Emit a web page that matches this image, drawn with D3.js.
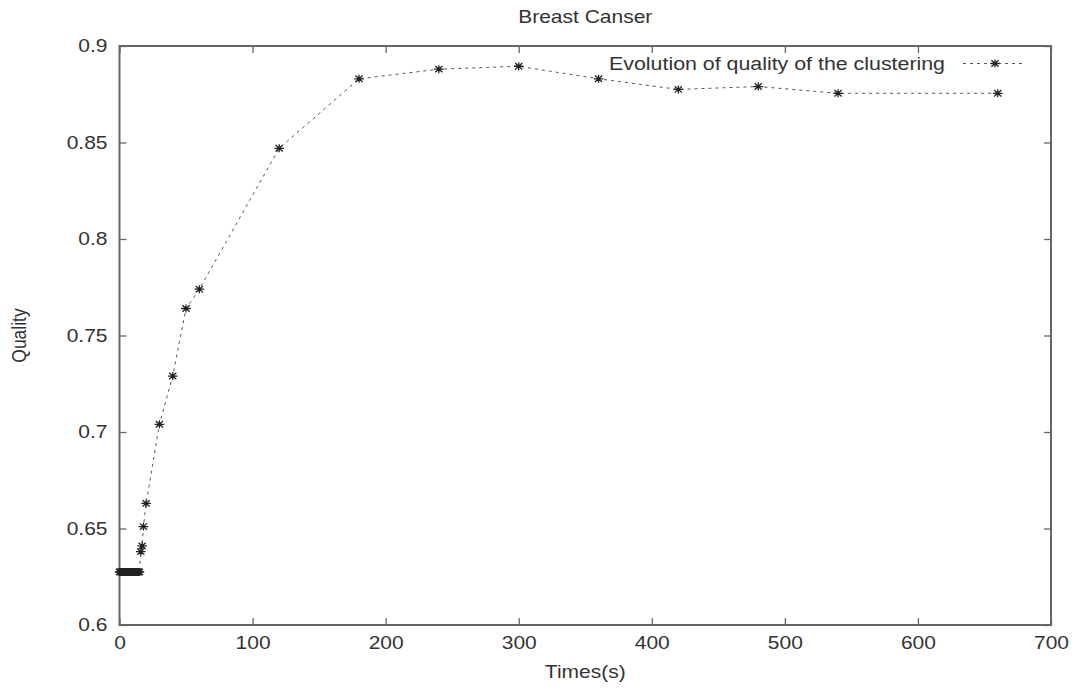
<!DOCTYPE html>
<html>
<head>
<meta charset="utf-8">
<script src="https://cdn.jsdelivr.net/npm/d3@7"></script>
<style>
  html, body { margin: 0; padding: 0; background: #fff; }
  svg { display: block; font-family: "Liberation Sans", Arial, sans-serif; }
</style>
</head>
<body>
<svg id="chart" width="1078" height="692"></svg>
<script>
// Elapsed time (seconds) and clustering quality at each sample
const times = [0, 0.5, 1, 1.5, 2, 2.5, 3, 3.5, 4, 4.5, 5, 5.5, 6, 6.5, 7, 7.5,
               8, 8.5, 9, 9.5, 10, 10.5, 11, 11.5, 12, 12.5, 13, 13.5, 14, 14.5, 15,
               16, 17, 18, 20, 30, 40, 50, 60, 120, 180, 240, 300, 360, 420, 480, 540, 660];
const quality = [0.6275, 0.6275, 0.6275, 0.6275, 0.6275, 0.6275, 0.6275, 0.6275,
                 0.6275, 0.6275, 0.6275, 0.6275, 0.6275, 0.6275, 0.6275, 0.6275,
                 0.6275, 0.6275, 0.6275, 0.6275, 0.6275, 0.6275, 0.6275, 0.6275,
                 0.6275, 0.6275, 0.6275, 0.6275, 0.6275, 0.6275, 0.6275,
                 0.638, 0.641, 0.651, 0.663, 0.704, 0.729, 0.764, 0.774, 0.847,
                 0.883, 0.888, 0.8895, 0.883, 0.8775, 0.879, 0.8755, 0.8755];
const xTicks = [0, 100, 200, 300, 400, 500, 600, 700];
const yTicks = [0.6, 0.65, 0.7, 0.75, 0.8, 0.85, 0.9];
const yTickLabels = ["0.6", "0.65", "0.7", "0.75", "0.8", "0.85", "0.9"];
const titleText = "Breast Canser";
const xTitle = "Times(s)";
const yTitle = "Quality";
const legendText = "Evolution of quality of the clustering";

const data = times.map((t, i) => ({ t, q: quality[i] }));

const svg = d3.select("#chart");
const frame = { left: 119.5, right: 1051, top: 46, bottom: 625 };

const x = d3.scaleLinear().domain([0, 700]).range([frame.left, frame.right]);
const y = d3.scaleLinear().domain([0.6, 0.9]).range([frame.bottom, frame.top]);

const axisColor = "#666";
const textColor = "#333";
const fontSize = 17.5;
const stretch = 1.2;   // text is drawn slightly widened

const tickLen = 7;
const styleAxis = g => {
  g.select(".domain").remove();
  g.selectAll(".tick line").attr("stroke", axisColor).attr("stroke-width", 1.3);
  g.selectAll(".tick text").attr("fill", textColor).attr("font-size", fontSize)
    .attr("font-family", "Liberation Sans, Arial, sans-serif")
    .attr("transform", `scale(${stretch},1)`);
};

// Tick marks point inward on all four sides (mirrored axes)
svg.append("g")
  .attr("transform", `translate(0,${frame.bottom})`)
  .call(d3.axisBottom(x).tickValues(xTicks).tickSize(-tickLen).tickPadding(12).tickFormat(d3.format("d")))
  .call(styleAxis);

svg.append("g")
  .attr("transform", `translate(0,${frame.top})`)
  .call(d3.axisTop(x).tickValues(xTicks).tickSize(-tickLen).tickFormat(""))
  .call(styleAxis);

svg.append("g")
  .attr("transform", `translate(${frame.left},0)`)
  .call(d3.axisLeft(y).tickValues(yTicks).tickSize(-tickLen).tickPadding(10)
    .tickFormat((d, i) => yTickLabels[i]))
  .call(styleAxis);

svg.append("g")
  .attr("transform", `translate(${frame.right},0)`)
  .call(d3.axisRight(y).tickValues(yTicks).tickSize(-tickLen).tickFormat(""))
  .call(styleAxis);

// Plot frame
svg.append("rect")
  .attr("x", frame.left).attr("y", frame.top)
  .attr("width", frame.right - frame.left)
  .attr("height", frame.bottom - frame.top)
  .attr("fill", "none").attr("stroke", axisColor).attr("stroke-width", 2);

// Dashed connecting line
const line = d3.line().x(d => x(d.t)).y(d => y(d.q));
svg.append("path")
  .datum(data)
  .attr("d", line)
  .attr("fill", "none")
  .attr("stroke", "#555")
  .attr("stroke-width", 1)
  .attr("stroke-dasharray", "3,4");

// Asterisk marker: plus and cross overlaid
const rx = 4.8, ry = 4;
const starPath = `M${-rx},0H${rx}M0,${-ry}V${ry}M${-rx * 0.75},${-ry * 0.8}L${rx * 0.75},${ry * 0.8}M${-rx * 0.75},${ry * 0.8}L${rx * 0.75},${-ry * 0.8}`;
svg.append("g")
  .selectAll("path")
  .data(data)
  .join("path")
  .attr("transform", d => `translate(${x(d.t)},${y(d.q)})`)
  .attr("d", starPath)
  .attr("stroke", "#222")
  .attr("stroke-width", 1.3)
  .attr("fill", "none");

// Titles
svg.append("text")
  .attr("transform", `translate(${(frame.left + frame.right) / 2},23) scale(${stretch},1)`)
  .attr("text-anchor", "middle")
  .attr("font-size", fontSize).attr("fill", textColor)
  .text(titleText);

svg.append("text")
  .attr("transform", `translate(${(frame.left + frame.right) / 2},678) scale(${stretch},1)`)
  .attr("text-anchor", "middle")
  .attr("font-size", fontSize).attr("fill", textColor)
  .text(xTitle);

svg.append("text")
  .attr("transform", `translate(26,${(frame.top + frame.bottom) / 2}) scale(${stretch},1) rotate(-90)`)
  .attr("text-anchor", "middle")
  .attr("font-size", fontSize).attr("fill", textColor)
  .text(yTitle);

// Legend
const legend = svg.append("g").attr("transform", "translate(0,63.5)");
legend.append("text")
  .attr("transform", `translate(945,6.5) scale(${stretch},1)`)
  .attr("text-anchor", "end")
  .attr("font-size", 17.8).attr("fill", textColor)
  .text(legendText);
legend.append("line")
  .attr("x1", 963).attr("x2", 1022).attr("y1", 0).attr("y2", 0)
  .attr("stroke", "#555").attr("stroke-width", 1).attr("stroke-dasharray", "3,4");
legend.append("path")
  .attr("transform", "translate(995,0)")
  .attr("d", starPath)
  .attr("stroke", "#222").attr("stroke-width", 1.3).attr("fill", "none");
</script>
</body>
</html>
